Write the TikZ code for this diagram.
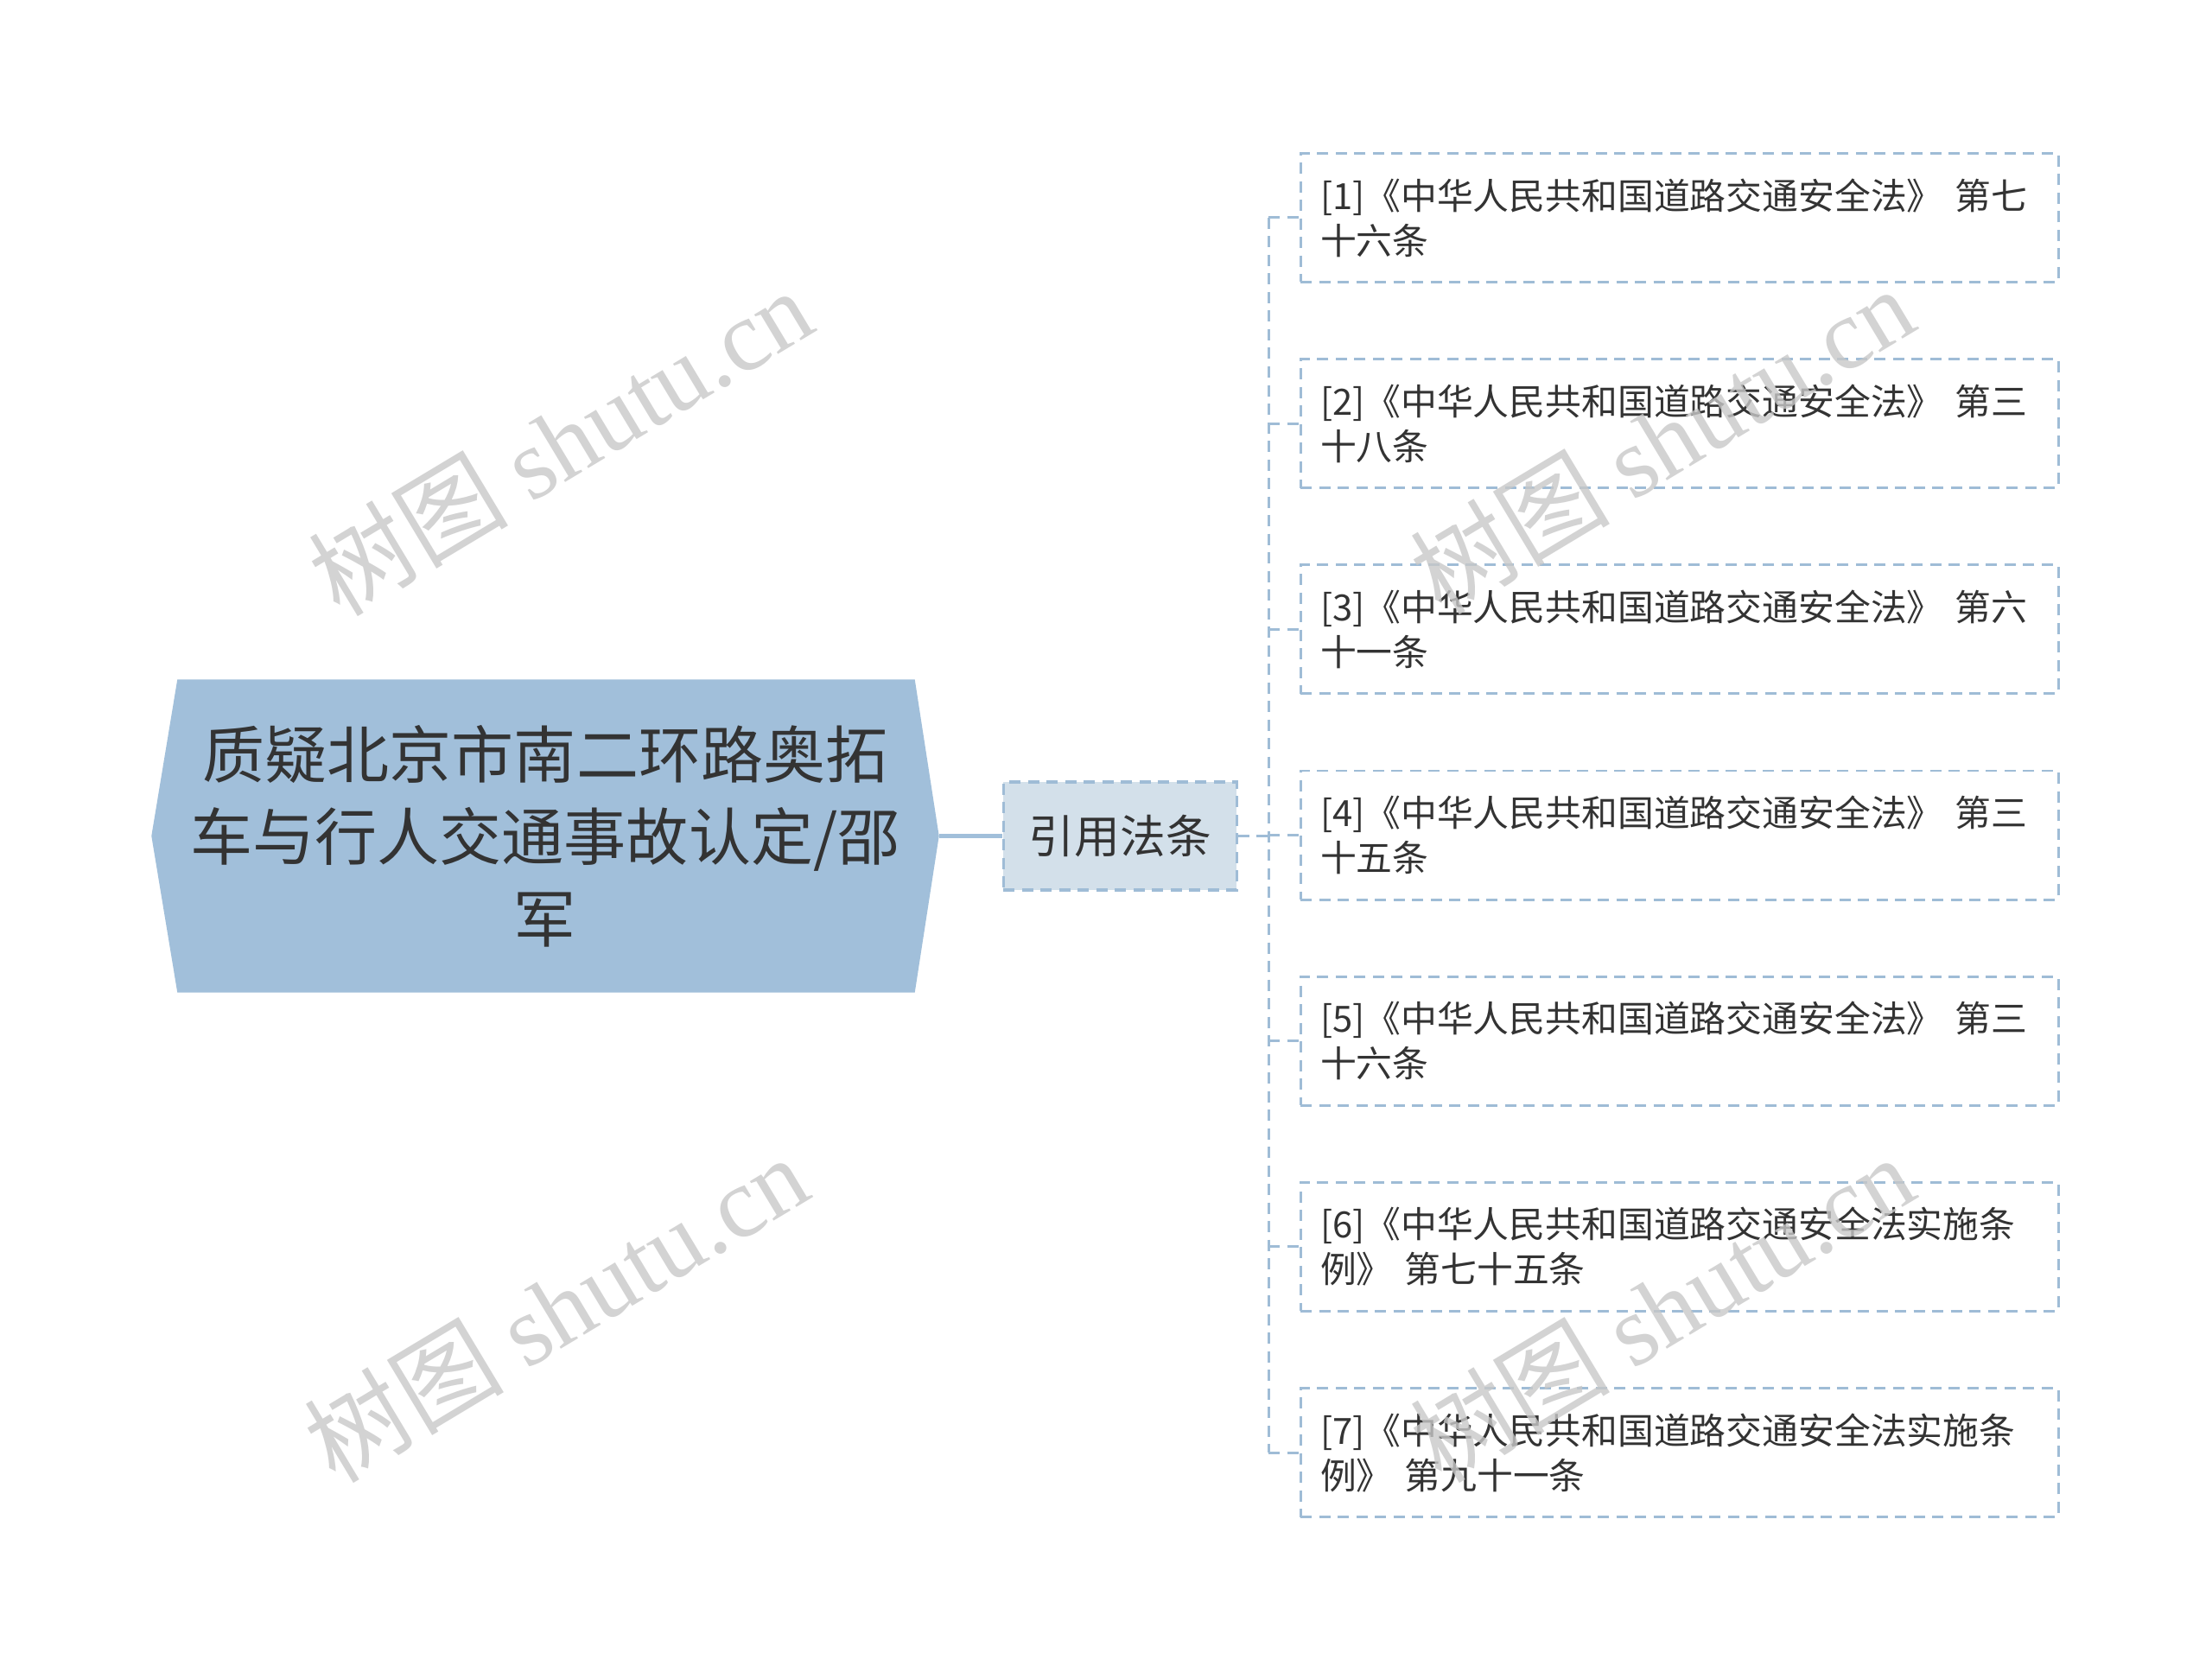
\documentclass[tikz,border=0pt]{standalone}
\usepackage{fontspec}
\setmainfont{Noto Sans CJK SC}
\newfontfamily\wmserif{Liberation Serif}
\usepackage{tikz}
\usetikzlibrary{calc}
\usetikzlibrary{positioning}
\usetikzlibrary{backgrounds}
\definecolor{rootblue}{HTML}{A1BFDA}
\definecolor{midfill}{HTML}{D3E0EA}
\definecolor{edgeblue}{HTML}{9FBCD6}
\definecolor{txtgray}{HTML}{333333}
\definecolor{wmgray}{HTML}{C8C8C8}
\tikzset{
  rootnode/.style={minimum width=9.1cm, minimum height=3.61cm, inner sep=0pt,
    align=center, text=txtgray, font=\fontsize{20.5}{27}\selectfont},
  midnode/.style={draw=edgeblue, fill=midfill, line width=0.9pt,
    dash pattern=on 0.13cm off 0.085cm, minimum width=2.7cm, minimum height=1.25cm,
    inner sep=0pt, text=txtgray, font=\fontsize{15}{18}\selectfont},
  leafnode/.style={draw=edgeblue, line width=0.85pt, dash pattern=on 0.13cm off 0.085cm,
    minimum width=8.77cm, minimum height=1.49cm, text width=8.31cm,
    inner xsep=0.23cm, inner ysep=0pt, align=left, text=txtgray,
    font=\fontsize{11.9}{14.8}\selectfont},
  solidlink/.style={draw=rootblue, line width=1.3pt},
  dashlink/.style={draw=edgeblue, line width=0.85pt, dash pattern=on 0.13cm off 0.085cm},
  watermark/.style={text=wmgray, opacity=0.8, rotate=31, font=\fontsize{33}{38}\selectfont}
}

\begin{document}
\begin{tikzpicture}
    \begin{scope}[on background layer]
        \fill[white] (0,0) rectangle (25.6,-19.35);
    \end{scope}
    % root and its hexagon
    \node[rootnode] (root) at (6.31,-9.675) {质疑北京市南二环路奥拓\\车与行人交通事故认定/邵\\军};
    \begin{scope}[on background layer]
        \fill[rootblue] (root.west) -- ([xshift=0.3cm]root.north west) -- ([xshift=-0.28cm]root.north east)
            -- (root.east) -- ([xshift=-0.28cm]root.south east) -- ([xshift=0.3cm]root.south west) -- cycle;
    \end{scope}
    \node[midnode, right=0.73cm of root] (cite) {引用法条};
    \draw[solidlink] (root.east) -- (cite.west);
    % leaves
    \coordinate (spinetop) at (14.68,-2.52);
    \coordinate (spinebot) at (14.68,-16.81);
    \foreach \i/\txt in {1/{[1]《中华人民共和国道路交通安全法》~第七\\十六条},
                         2/{[2]《中华人民共和国道路交通安全法》~第三\\十八条},
                         3/{[3]《中华人民共和国道路交通安全法》~第六\\十一条},
                         4/{[4]《中华人民共和国道路交通安全法》~第三\\十五条},
                         5/{[5]《中华人民共和国道路交通安全法》~第三\\十六条},
                         6/{[6]《中华人民共和国道路交通安全法实施条\\例》~第七十五条},
                         7/{[7]《中华人民共和国道路交通安全法实施条\\例》~第九十一条}}{
        \node[leafnode] (law\i) at (19.435,{-2.52-(\i-1)*2.3817}) {\txt};
        \draw[dashlink] (law\i.west -| spinetop) -- (law\i.west);
    }
    \draw[dashlink] (cite.east) -- (cite.east -| spinetop);
    \draw[dashlink] (spinetop) -- (spinebot);
    % watermarks
    \node[watermark] (wm1) at (6.48,-5.11) {树图 {\wmserif shutu.cn}};
    \node[watermark] (wm2) at (19.23,-5.09) {树图 {\wmserif shutu.cn}};
    \node[watermark] (wm3) at (6.43,-15.14) {树图 {\wmserif shutu.cn}};
    \node[watermark] (wm4) at (19.23,-15.14) {树图 {\wmserif shutu.cn}};
\end{tikzpicture}
\end{document}
